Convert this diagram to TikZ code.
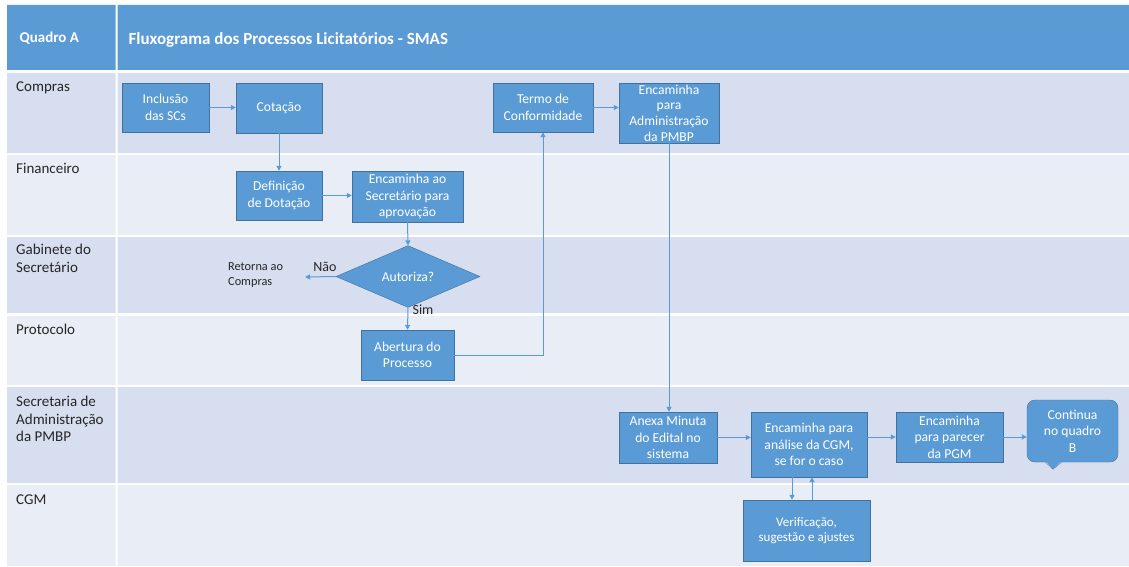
\documentclass[tikz,border=0pt]{standalone}
\usepackage{fontspec}
\setmainfont{Carlito}
\usepackage{tikz}
\usetikzlibrary{shapes.geometric,arrows.meta,calc}

\definecolor{azul}{RGB}{91,155,213}
\definecolor{borda}{RGB}{65,113,156}
\definecolor{raiaA}{RGB}{214,222,239}
\definecolor{raiaB}{RGB}{233,237,246}

\begin{document}
\begin{tikzpicture}[x=1pt,y=-1pt,
 etapa/.style={draw=borda, fill=azul, text=white, align=center, inner sep=1pt, font=\fontsize{13.6}{16.5}\selectfont},
 decisao/.style={diamond, draw=borda, fill=azul, text=white, inner sep=0pt, minimum width=144pt, minimum height=55pt, font=\fontsize{13.6}{16.5}\selectfont},
 fluxo/.style={draw=azul, line width=1pt, -{Triangle[length=5pt,width=5pt]}},
 raia/.style={anchor=north west, align=left, inner sep=0pt, text=black!85, font=\fontsize{15}{17.5}\selectfont},
 rotulo/.style={text=black!85, inner sep=0pt, font=\fontsize{14}{16}\selectfont}]

 \useasboundingbox (0,0) rectangle (1129,567);

 \fill[azul] (7,5) rectangle (115.5,70) (117.5,5) rectangle (1129,70);
 \fill[raiaA] (7,73) rectangle (115.5,153) (117.5,73) rectangle (1129,153);
 \fill[raiaB] (7,155) rectangle (115.5,235) (117.5,155) rectangle (1129,235);
 \fill[raiaA] (7,237) rectangle (115.5,313) (117.5,237) rectangle (1129,313);
 \fill[raiaB] (7,316) rectangle (115.5,385) (117.5,316) rectangle (1129,385);
 \fill[raiaA] (7,387) rectangle (115.5,483) (117.5,387) rectangle (1129,483);
 \fill[raiaB] (7,485) rectangle (115.5,566) (117.5,485) rectangle (1129,566);

 \node[anchor=west, text=white, font=\bfseries\fontsize{15}{18}\selectfont] (quadro) at (16,38) {Quadro A};
 \node[anchor=west, text=white, font=\bfseries\fontsize{17}{20}\selectfont] (titulo) at (125,40) {Fluxograma dos Processos Licitatórios - SMAS};

 \node[raia] (compras) at (16,82) {Compras};
 \node[raia] (financeiro) at (16,163) {Financeiro};
 \node[raia] (gabinete) at (16,244) {Gabinete do\\Secretário};
 \node[raia] (protocolo) at (16,324) {Protocolo};
 \node[raia] (secretaria) at (16,396) {Secretaria de\\Administração\\da PMBP};
 \node[raia] (cgm) at (16,495) {CGM};

 \node[etapa, minimum width=87pt, minimum height=49pt] (incl) at (165.5,107.5) {Inclusão\\das SCs};
 \node[etapa, minimum width=86pt, minimum height=50pt] (cot) at (279,108) {Cotação};
 \node[etapa, minimum width=100pt, minimum height=49pt] (termo) at (543,107.5) {Termo de\\Conformidade};
 \node[etapa, minimum width=100pt, minimum height=60pt, inner sep=0pt, font=\fontsize{13.6}{15.6}\selectfont] (encadm) at (669,113) {Encaminha\\para\\Administração\\da PMBP};
 \node[etapa, minimum width=86pt, minimum height=49pt] (def) at (279,195.5) {Definição\\de Dotação};
 \node[etapa, minimum width=111pt, minimum height=51pt] (encsec) at (407.5,196.5) {Encaminha ao\\Secretário para\\aprovação};
 \node[decisao] (aut) at (408,276.5) {Autoriza?};
 \node[etapa, minimum width=93pt, minimum height=50pt] (abert) at (407.5,355) {Abertura do\\Processo};
 \node[etapa, minimum width=98pt, minimum height=51pt] (anexa) at (668,437.5) {Anexa Minuta\\do Edital no\\sistema};
 \node[etapa, minimum width=116pt, minimum height=65pt] (enccgm) at (809,444.5) {Encaminha para\\análise da CGM,\\se for o caso};
 \node[etapa, minimum width=107pt, minimum height=50pt] (encpgm) at (949.5,437) {Encaminha\\para parecer\\da PGM};
 \node[etapa, rounded corners=8pt, minimum width=91pt, minimum height=62pt] (cont) at (1072.5,431) {Continua\\no quadro\\B};
 \node[etapa, minimum width=127pt, minimum height=61pt, font=\fontsize{13}{14.5}\selectfont] (verif) at (806.5,530.5) {Verificação,\\sugestão e ajustes};

 \fill[azul] ($(cont.south)+(-27,-1.5)$) -- ($(cont.south)+(-19.5,7)$) -- ($(cont.south)+(-11,-1.5)$) -- cycle;
 \draw[borda] ($(cont.south)+(-27,0)$) -- ($(cont.south)+(-19.5,7)$) -- ($(cont.south)+(-11,0)$);

 \coordinate (ret) at (305,277);
 \node[anchor=west, align=left, inner sep=0pt, text=black!85, font=\fontsize{12.3}{15}\selectfont] (retorna) at (228,275) {Retorna ao\\Compras};
 \node[rotulo] (nao) at (325,267) {Não};
 \node[rotulo] (sim) at (423,310) {Sim};

 \draw[fluxo] (incl.east) -- (incl.east -| cot.west);
 \draw[fluxo] (cot.south) -- (def.north);
 \draw[fluxo] (def.east) -- (def.east -| encsec.west);
 \draw[fluxo] (encsec.south) -- (aut.north);
 \draw[fluxo] (aut.west) -- (ret);
 \draw[fluxo] (aut.south) -- (abert.north);
 \draw[fluxo] (abert.east) -| (termo.south);
 \draw[fluxo] (termo.east) -- (termo.east -| encadm.west);
 \draw[fluxo] (encadm.south) -- (encadm.south |- anexa.north);
 \draw[fluxo] (anexa.east) -- (anexa.east -| enccgm.west);
 \draw[fluxo] (encpgm.west -| enccgm.east) -- (encpgm.west);
 \draw[fluxo] (encpgm.east) -- (encpgm.east -| cont.west);
 \draw[fluxo] ([xshift=-17pt]enccgm.south) -- ([xshift=-17pt]enccgm.south |- verif.north);
 \draw[fluxo] ([xshift=3pt]enccgm.south |- verif.north) -- ([xshift=3pt]enccgm.south);

\end{tikzpicture}
\end{document}
